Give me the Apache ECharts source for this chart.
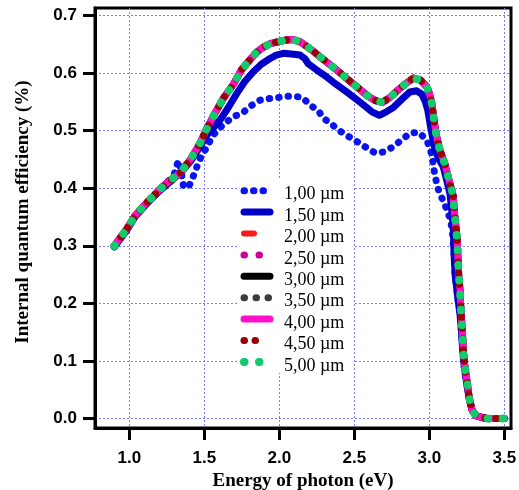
<!DOCTYPE html>
<html>
<head>
<meta charset="utf-8">
<script src="https://cdn.jsdelivr.net/npm/echarts@6/dist/echarts.min.js"></script>
<style>html,body{margin:0;padding:0;background:#fff}#c{width:519px;height:490px}</style>
</head>
<body>
<div id="c"></div>
<script>
const seriesNames = ['1,00 µm','1,50 µm','2,00 µm','2,50 µm','3,00 µm','3,50 µm','4,00 µm','4,50 µm','5,00 µm'];
const xTicks = [1.0, 1.5, 2.0, 2.5, 3.0, 3.5];
const yTicks = [0.0, 0.1, 0.2, 0.3, 0.4, 0.5, 0.6, 0.7];

const energyTop = [0.90,0.94,0.98,1.04,1.12,1.16,1.20,1.245,1.29,1.338,1.37,1.41,1.44,1.47,1.516,1.571,1.627,1.693,1.749,1.805,1.85,1.889,1.94,1.989,2.04,2.089,2.14,2.183,2.23,2.271,2.33,2.383,2.433,2.483,2.54,2.589,2.64,2.689,2.74,2.794,2.85,2.893,2.94,2.983,3.00,3.016,3.03,3.045,3.067,3.10,3.133,3.16,3.167,3.178,3.187,3.191,3.196,3.205,3.209,3.216,3.222,3.227,3.238,3.253,3.267,3.285,3.31,3.35,3.393,3.45,3.50];
const iqeTop = [0.300,0.314,0.328,0.353,0.376,0.386,0.397,0.408,0.417,0.426,0.437,0.451,0.464,0.477,0.503,0.530,0.556,0.580,0.606,0.623,0.636,0.644,0.651,0.654,0.657,0.658,0.654,0.646,0.637,0.628,0.616,0.605,0.594,0.583,0.571,0.560,0.552,0.549,0.558,0.571,0.583,0.591,0.588,0.576,0.565,0.548,0.521,0.495,0.469,0.445,0.4125,0.386,0.359,0.333,0.305,0.280,0.2505,0.224,0.197,0.1695,0.143,0.116,0.0885,0.062,0.035,0.015,0.005,0.002,0.0,0.0,0.0];

const energy150 = [0.90,0.98,1.04,1.12,1.20,1.29,1.36,1.41,1.471,1.52,1.605,1.66,1.716,1.77,1.827,1.88,1.938,1.98,2.027,2.08,2.138,2.17,2.193,2.25,2.316,2.38,2.449,2.52,2.583,2.62,2.667,2.71,2.76,2.82,2.871,2.916,2.95,2.971,2.99,3.009,3.038,3.065,3.093,3.115,3.138,3.15,3.16,3.165,3.172,3.19,3.205,3.215,3.222,3.233,3.25,3.265,3.285,3.31,3.35,3.393,3.50];
const iqe150 = [0.298,0.326,0.351,0.374,0.395,0.415,0.432,0.447,0.4715,0.493,0.518,0.540,0.564,0.585,0.602,0.615,0.625,0.631,0.634,0.633,0.631,0.625,0.616,0.605,0.593,0.580,0.567,0.553,0.540,0.532,0.5265,0.532,0.540,0.555,0.567,0.569,0.563,0.552,0.535,0.506,0.466,0.450,0.437,0.415,0.390,0.360,0.333,0.287,0.250,0.210,0.180,0.150,0.120,0.090,0.060,0.035,0.015,0.005,0.002,0.0,0.0];

const energy100 = [0.90,0.98,1.04,1.12,1.20,1.25,1.30,1.327,1.345,1.36,1.38,1.40,1.416,1.438,1.46,1.483,1.51,1.538,1.56,1.587,1.638,1.698,1.756,1.805,1.871,1.916,1.983,2.045,2.105,2.156,2.205,2.26,2.289,2.343,2.405,2.46,2.523,2.583,2.639,2.699,2.756,2.816,2.876,2.933,2.983,3.005,3.02,3.027,3.038,3.05,3.067,3.093,3.116,3.138,3.149,3.156,3.16,3.165,3.172,3.19,3.205,3.215,3.222,3.233,3.25,3.265,3.285,3.31,3.35,3.393,3.50];
const iqe100 = [0.299,0.327,0.352,0.375,0.396,0.409,0.425,0.448,0.430,0.405,0.400,0.405,0.414,0.428,0.444,0.457,0.468,0.482,0.492,0.5005,0.513,0.5245,0.5306,0.542,0.5526,0.555,0.557,0.5595,0.5595,0.557,0.544,0.535,0.5226,0.512,0.499,0.490,0.480,0.470,0.461,0.463,0.4715,0.484,0.496,0.4965,0.483,0.469,0.453,0.438,0.4225,0.407,0.392,0.378,0.363,0.347,0.333,0.318,0.304,0.2875,0.250,0.210,0.180,0.150,0.120,0.090,0.060,0.035,0.015,0.005,0.002,0.0,0.0];

function pairs(xs, ys) { return xs.map((x, i) => [x, ys[i]]); }
const seriesData = [
  pairs(energy100, iqe100),
  pairs(energy150, iqe150),
  pairs(energyTop, iqeTop),
  pairs(energyTop, iqeTop),
  pairs(energyTop, iqeTop),
  pairs(energyTop, iqeTop),
  pairs(energyTop, iqeTop),
  pairs(energyTop, iqeTop),
  pairs(energyTop, iqeTop)
];

const styles = [
  { color: '#0a14ee', width: 7, type: [0.5, 9], legendLen: 20 },
  { color: '#0000c8', width: 7, type: 'solid', legendLen: 26 },
  { color: '#ff1a1a', width: 6, type: [10, 22], legendLen: 10 },
  { color: '#cc0099', width: 7, type: [0.5, 14.5], legendLen: 16 },
  { color: '#000000', width: 7, type: 'solid', legendLen: 26 },
  { color: '#3c3c3c', width: 7, type: [0.5, 11.5], legendLen: 25 },
  { color: '#ff10c8', width: 7, type: 'solid', legendLen: 26 },
  { color: '#990000', width: 7, type: [0.5, 10.5], legendLen: 22 },
  { color: '#10cc6a', width: 8, type: [0.5, 14.5], legendLen: 16 }
];

const chart = echarts.init(document.getElementById('c'), null, { renderer: 'canvas' });
const axisFont = { color: '#000', fontFamily: 'Liberation Sans', fontWeight: 'bold', fontSize: 17 };
const titleFont = { color: '#000', fontFamily: 'Liberation Serif', fontWeight: 'bold', fontSize: 19 };
const gridLine = { show: true, lineStyle: { color: '#7a7aff', width: 1, type: [2, 2] } };

// Legend drawn as graphic elements (keeps the dotted/solid line samples)
const legendLeft = 237, legendTop = 180, rowH = 21.4, iconX = 244, textX = 284;
const legendEls = [{
  type: 'rect', shape: { x: legendLeft, y: legendTop, width: 116, height: 193 },
  style: { fill: '#fff' }, z: 100
}];
seriesNames.forEach((name, i) => {
  const cy = legendTop + 10.7 + rowH * i;
  const st = styles[i];
  legendEls.push({
    type: 'line', z: 101,
    shape: { x1: iconX, y1: cy, x2: iconX + st.legendLen, y2: cy },
    style: { stroke: st.color, lineWidth: st.width, lineCap: 'round',
             lineDash: st.type === 'solid' ? null : st.type }
  });
  legendEls.push({
    type: 'text', z: 101, x: textX, y: cy + 4,
    style: { text: name, fill: '#000', font: '18px "Liberation Serif"', verticalAlign: 'middle', align: 'left' }
  });
});

chart.setOption({
  animation: false,
  backgroundColor: '#fff',
  grid: { left: 95, top: 8, right: 8, bottom: 62, outerBoundsMode: 'none', containLabel: false,
          show: true, borderColor: '#000', borderWidth: 3, backgroundColor: 'transparent' },
  xAxis: {
    type: 'value', min: 0.7713, max: 3.5447,
    axisLine: { show: true, onZero: false, lineStyle: { color: '#000', width: 3 } },
    axisTick: { show: true, customValues: xTicks, length: 12, lineStyle: { color: '#000', width: 3 } },
    axisLabel: Object.assign({ customValues: xTicks, margin: 22, formatter: v => v.toFixed(1) }, axisFont),
    splitLine: gridLine,
    name: 'Energy of photon (eV)', nameLocation: 'middle', nameGap: 43, nameTextStyle: titleFont
  },
  yAxis: {
    type: 'value', min: -0.0163, max: 0.7127,
    axisLine: { show: true, onZero: false, lineStyle: { color: '#000', width: 3 } },
    axisTick: { show: true, customValues: yTicks, length: 12, lineStyle: { color: '#000', width: 3 } },
    axisLabel: Object.assign({ customValues: yTicks, margin: 18, formatter: v => v.toFixed(1) }, axisFont),
    splitLine: gridLine,
    name: 'Internal quantum efficiency (%)', nameLocation: 'middle', nameGap: 62,
    nameTextStyle: Object.assign({ padding: [0, 0, 0, 12] }, titleFont)
  },
  graphic: { elements: legendEls },
  series: seriesNames.map((name, i) => ({
    name: name, type: 'line', symbol: 'none', showSymbol: false,
    data: seriesData[i],
    lineStyle: { color: styles[i].color, width: styles[i].width, type: styles[i].type, cap: 'round', join: 'round' },
    z: 2 + i
  }))
});
</script>
</body>
</html>
